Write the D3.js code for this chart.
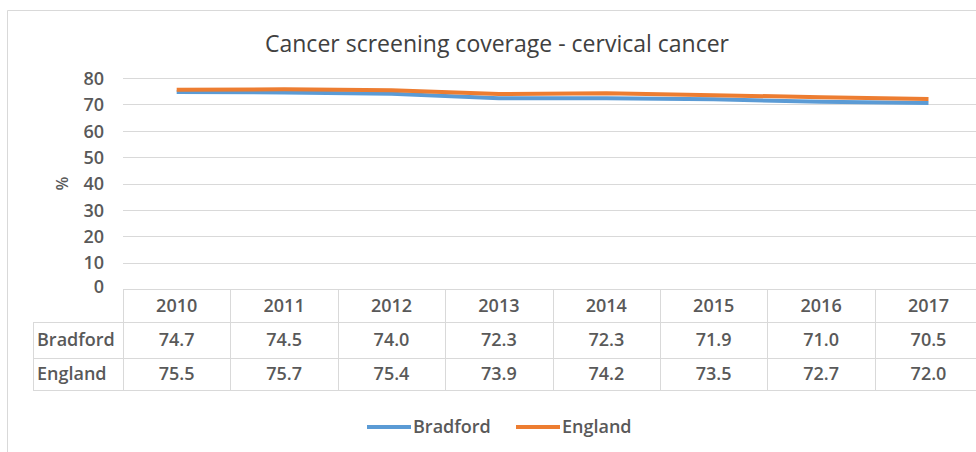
<!DOCTYPE html>
<html>
<head>
<meta charset="utf-8">
<script src="https://cdn.jsdelivr.net/npm/d3@7"></script>
<style>
  body { margin: 0; background: #fff; }
  text { font-family: "Open Sans", Lato, sans-serif; fill: #595959; }
</style>
</head>
<body>
<div id="chart"></div>
<script>
const years = ['2010', '2011', '2012', '2013', '2014', '2015', '2016', '2017'];
const bradford = [74.7, 74.5, 74.0, 72.3, 72.3, 71.9, 71.0, 70.5];
const england = [75.5, 75.7, 75.4, 73.9, 74.2, 73.5, 72.7, 72.0];
const yTicks = [0, 10, 20, 30, 40, 50, 60, 70, 80];

const series = [
  { name: 'Bradford', values: bradford, color: '#5b9bd5' },
  { name: 'England', values: england, color: '#ed7d31' }
];

const w = 976, h = 452;
const plotLeft = 123, colW = 107.4;
const plotTop = 78, plotBottom = 289;
const rowLines = [289, 322, 358, 390];

const svg = d3.select('#chart').append('svg')
  .attr('width', w).attr('height', h);

// chart frame
svg.append('path')
  .attr('d', `M7.5,${h} V10.5 H${w}`)
  .attr('fill', 'none').attr('stroke', '#d9d9d9');

svg.append('text')
  .attr('x', 497).attr('y', 52)
  .attr('text-anchor', 'middle')
  .style('font-size', '23px')
  .style('fill', '#404040')
  .text('Cancer screening coverage - cervical cancer');

const x = d3.scaleBand().domain(years).range([plotLeft, plotLeft + colW * years.length]);
const y = d3.scaleLinear().domain([0, 80]).range([plotBottom, plotTop]);

// grid
svg.append('g').selectAll('line')
  .data(yTicks.filter(d => d > 0))
  .join('line')
  .attr('x1', plotLeft).attr('x2', w)
  .attr('y1', d => Math.round(y(d)) + 0.5).attr('y2', d => Math.round(y(d)) + 0.5)
  .attr('stroke', '#d9d9d9');

const yAxis = d3.axisLeft(y).tickValues(yTicks).tickSize(0).tickPadding(0);
const gy = svg.append('g').attr('transform', 'translate(104,0)').call(yAxis);
gy.select('.domain').remove();
gy.selectAll('text')
  .style('font-size', '18px').style('font-weight', '600')
  .attr('fill', '#595959').attr('dy', '0.35em');
gy.selectAll('.tick').filter(d => d === 0).select('text').attr('dy', '0.2em');

svg.append('text')
  .attr('transform', `translate(62,${y(40)}) rotate(-90)`)
  .attr('text-anchor', 'middle').attr('dy', '0.35em')
  .style('font-size', '16px').style('font-weight', '600')
  .text('%');

// lines
const line = d3.line()
  .x((d, i) => x(years[i]) + x.bandwidth() / 2)
  .y(d => y(d));

svg.append('g').selectAll('path')
  .data(series)
  .join('path')
  .attr('d', d => line(d.values))
  .attr('fill', 'none')
  .attr('stroke', d => d.color)
  .attr('stroke-width', 4)
  .attr('stroke-linejoin', 'round');

// data table
const tbl = svg.append('g').attr('stroke', '#d9d9d9').attr('fill', 'none');
const tRight = plotLeft + colW * years.length;
tbl.append('line').attr('x1', plotLeft).attr('x2', tRight).attr('y1', rowLines[0] + 0.5).attr('y2', rowLines[0] + 0.5);
rowLines.slice(1).forEach(r => {
  tbl.append('line').attr('x1', 33).attr('x2', tRight).attr('y1', r + 0.5).attr('y2', r + 0.5);
});
tbl.append('line').attr('x1', 33.5).attr('x2', 33.5).attr('y1', rowLines[1]).attr('y2', rowLines[3]);
years.forEach(yr => {
  const cx = Math.round(x(yr)) + 0.5;
  tbl.append('line').attr('x1', cx).attr('x2', cx).attr('y1', rowLines[0]).attr('y2', rowLines[3]);
});

const cell = svg.append('g')
  .style('font-size', '18px').style('font-weight', '600');
cell.selectAll('.yr')
  .data(years)
  .join('text')
  .attr('class', 'yr')
  .attr('x', d => x(d) + x.bandwidth() / 2)
  .attr('y', (rowLines[0] + rowLines[1]) / 2)
  .attr('dy', '0.35em').attr('text-anchor', 'middle')
  .text(d => d);

series.forEach((s, k) => {
  const cy = (rowLines[k + 1] + rowLines[k + 2]) / 2;
  cell.append('text')
    .attr('x', 37).attr('y', cy).attr('dy', '0.35em')
    .text(s.name);
  cell.selectAll('.v' + k)
    .data(s.values)
    .join('text')
    .attr('class', 'v' + k)
    .attr('x', (d, i) => x(years[i]) + x.bandwidth() / 2)
    .attr('y', cy).attr('dy', '0.35em').attr('text-anchor', 'middle')
    .text(d => d.toFixed(1));
});

// legend
const legendX = [367, 516];
const lg = svg.append('g');
series.forEach((s, k) => {
  lg.append('line')
    .attr('x1', legendX[k]).attr('x2', legendX[k] + 44)
    .attr('y1', 427).attr('y2', 427)
    .attr('stroke', s.color).attr('stroke-width', 4);
  lg.append('text')
    .attr('x', legendX[k] + 46).attr('y', 427).attr('dy', '0.35em')
    .style('font-size', '18px').style('font-weight', '600')
    .text(s.name);
});
</script>
</body>
</html>
